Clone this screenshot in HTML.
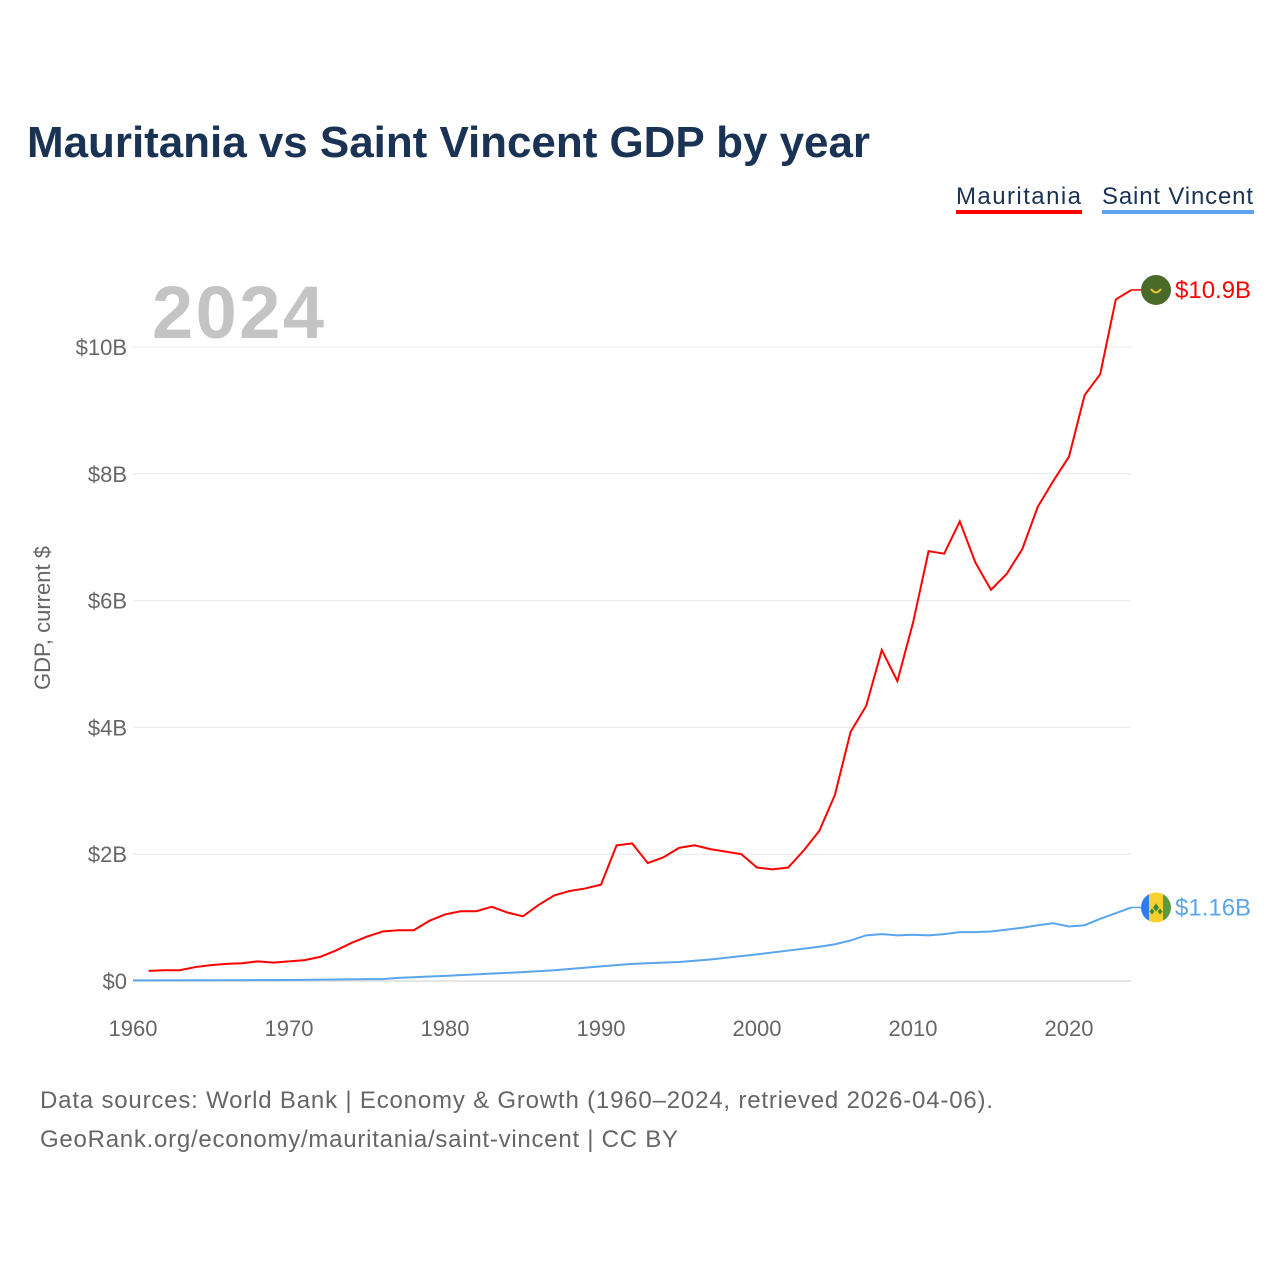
<!DOCTYPE html>
<html><head><meta charset="utf-8"><style>
body{margin:0;background:#fff;font-family:"Liberation Sans",sans-serif}
</style></head><body>
<svg width="1280" height="1280" xmlns="http://www.w3.org/2000/svg" style="font-family:'Liberation Sans',sans-serif">
<text x="27" y="157" font-size="44" font-weight="bold" fill="#1a3354" textLength="843">Mauritania vs Saint Vincent GDP by year</text>
<g>
<text x="956" y="204" font-size="24" fill="#1a3354" textLength="125">Mauritania</text>
<rect x="956" y="210" width="126" height="4" fill="#ff0000"/>
<text x="1102" y="204" font-size="24" fill="#1a3354" textLength="151">Saint Vincent</text>
<rect x="1102" y="210" width="152" height="4" fill="#5aa5ee"/>
</g>
<text x="152" y="338" font-size="74" font-weight="bold" fill="#c4c4c4" textLength="172">2024</text>
<g id="grid"></g>
<g id="ylab"></g>
<g id="xlab"></g>
<text transform="translate(50,618) rotate(-90)" text-anchor="middle" font-size="22" fill="#666">GDP, current $</text>
<g id="series"></g>
<g>
<circle id="mflag" cx="1156" cy="288" r="15" fill="#4a6a2a"/>
<path id="mcres" d="" fill="none" stroke="#e8c832" stroke-width="2"/>
<text id="mval" x="1175" y="296" font-size="24" fill="#ff0000">$10.9B</text>
</g>
<g>
<clipPath id="sc"><circle id="sclip" cx="1156" cy="906" r="15"/></clipPath>
<g id="sflag" clip-path="url(#sc)"></g>
<text id="sval" x="1175" y="914" font-size="24" fill="#5aa5ee">$1.16B</text>
</g>
<text x="40" y="1108" font-size="24" fill="#666" textLength="953">Data sources: World Bank | Economy &amp; Growth (1960–2024, retrieved 2026-04-06).</text>
<text x="40" y="1147" font-size="24" fill="#666" textLength="638">GeoRank.org/economy/mauritania/saint-vincent | CC BY</text>
</svg>
<script>
const mauritaniaYears=[1961,1962,1963,1964,1965,1966,1967,1968,1969,1970,1971,1972,1973,1974,1975,1976,1977,1978,1979,1980,1981,1982,1983,1984,1985,1986,1987,1988,1989,1990,1991,1992,1993,1994,1995,1996,1997,1998,1999,2000,2001,2002,2003,2004,2005,2006,2007,2008,2009,2010,2011,2012,2013,2014,2015,2016,2017,2018,2019,2020,2021,2022,2023,2024];
const mauritaniaGDP=[0.16,0.17,0.17,0.22,0.25,0.27,0.28,0.31,0.29,0.31,0.33,0.38,0.48,0.6,0.7,0.78,0.8,0.8,0.95,1.05,1.1,1.1,1.17,1.08,1.02,1.2,1.35,1.42,1.46,1.52,2.14,2.17,1.86,1.95,2.1,2.14,2.08,2.04,2.0,1.79,1.76,1.79,2.06,2.37,2.94,3.93,4.34,5.22,4.73,5.65,6.78,6.74,7.25,6.6,6.17,6.42,6.81,7.48,7.89,8.27,9.24,9.57,10.75,10.9];
const svgYears=[1960,1965,1970,1975,1976,1977,1980,1985,1987,1990,1992,1995,1997,2000,2002,2004,2005,2006,2007,2008,2009,2010,2011,2012,2013,2014,2015,2016,2017,2018,2019,2020,2021,2022,2023,2024];
const saintVincentGDP=[0.01,0.012,0.015,0.03,0.03,0.05,0.08,0.14,0.17,0.23,0.27,0.3,0.34,0.42,0.48,0.54,0.58,0.64,0.72,0.74,0.72,0.73,0.72,0.74,0.77,0.77,0.78,0.81,0.84,0.88,0.91,0.86,0.88,0.98,1.07,1.16];
const yTicks=[0,2,4,6,8,10];
const yTickLabels=["$0","$2B","$4B","$6B","$8B","$10B"];
const xTicks=[1960,1970,1980,1990,2000,2010,2020];
const NS="http://www.w3.org/2000/svg";
const x=yr=>133+(yr-1960)*15.6;
const y=v=>981-v*63.4;
function mk(t,a,p){const e=document.createElementNS(NS,t);for(const k in a)e.setAttribute(k,a[k]);p.appendChild(e);return e;}
const grid=document.getElementById('grid'),yl=document.getElementById('ylab'),xl=document.getElementById('xlab'),ser=document.getElementById('series');
yTicks.forEach((v,i)=>{
 const l=mk('line',{x1:133,x2:1131,y1:y(v),y2:y(v),stroke:v===0?'#ddd':'#e8e8e8','stroke-width':v===0?1.5:1},grid);
 
 
 const t=mk('text',{x:127,y:y(v)+8,'text-anchor':'end','font-size':22,fill:'#666'},yl);
 t.textContent=yTickLabels[i];
 
 
});
xTicks.forEach(v=>{
 const t=mk('text',{x:x(v),y:1036,'text-anchor':'middle','font-size':22,fill:'#666'},xl);
 t.textContent=v;
 
 
});
const sp=mk('polyline',{points:svgYears.map((yr,i)=>x(yr)+','+y(saintVincentGDP[i])).join(' '),fill:'none',stroke:'#5aa5ee','stroke-width':2},ser);


const mp=mk('polyline',{points:mauritaniaYears.map((yr,i)=>x(yr)+','+y(mauritaniaGDP[i])).join(' '),fill:'none',stroke:'#ff0000','stroke-width':2},ser);


const mLast=mauritaniaGDP[mauritaniaGDP.length-1], sLast=saintVincentGDP[saintVincentGDP.length-1];
const my=y(mLast), sy=y(sLast);
mk('line',{x1:1131,x2:1141,y1:my,y2:my,stroke:'#ff0000','stroke-width':1.5},ser);
mk('line',{x1:1131,x2:1141,y1:sy,y2:sy,stroke:'#5aa5ee','stroke-width':1.5},ser);
document.getElementById('mflag').setAttribute('cy',my);
document.getElementById('mcres').setAttribute('d',`M1151 ${my-1} Q1156 ${my+6} 1161 ${my-1}`);
document.getElementById('mval').setAttribute('y',my+8);
document.getElementById('mval').textContent='$'+mLast.toFixed(1)+'B';
document.getElementById('sclip').setAttribute('cy',sy);
const sf=document.getElementById('sflag');
mk('rect',{x:1141,y:sy-15,width:8,height:30,fill:'#2f7cf0'},sf);
mk('rect',{x:1149,y:sy-15,width:14,height:30,fill:'#f8d030'},sf);
mk('rect',{x:1163,y:sy-15,width:8,height:30,fill:'#5a9a40'},sf);
mk('path',{d:`M1156 ${sy-4} l3 4 -3 4 -3 -4z M1152 ${sy+1} l2.5 3 -2.5 3 -2.5 -3z M1160 ${sy+1} l2.5 3 -2.5 3 -2.5 -3z`,fill:'#3a8a30'},sf);
document.getElementById('sval').setAttribute('y',sy+8);
document.getElementById('sval').textContent='$'+sLast.toFixed(2)+'B';
</script>
</body></html>
